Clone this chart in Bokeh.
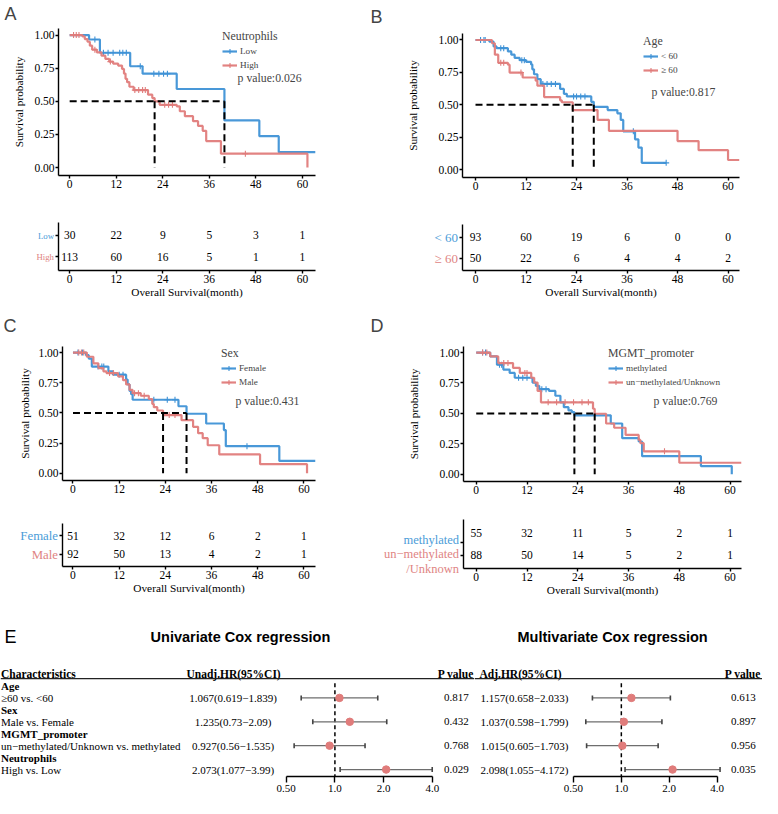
import math
import numpy as np
from bokeh.plotting import figure
from bokeh.layouts import row, column
from bokeh.models import (Range1d, LogAxis, LogScale, FixedTicker, Label, Legend,
                          LegendItem, NumeralTickFormatter)
from bokeh.core.properties import value
from bokeh.embed import file_html
from bokeh.resources import INLINE

# ---------------------------------------------------------------- data
risk_times = [0, 12, 24, 36, 48, 60]
y_ticks = [0, 0.25, 0.5, 0.75, 1.0]

# Panel A : Neutrophils
a_groups = ["Low", "High"]
a_low_t = [0, 5.0, 7.8, 15.6, 18.8, 27.6, 39.9, 48.9, 53.9, 63.4]
a_low_s = [1, 0.967, 0.867, 0.765, 0.709, 0.593, 0.356, 0.237, 0.116, 0.116]
a_low_cens = [6.5, 8.7, 9.9, 11.2, 12.9, 13.7, 14.6, 18.2, 21.7, 23.0, 24.2, 25.2]
a_high_t = [0, 3.3, 3.9, 4.6, 5.2, 5.8, 7.0, 8.2, 9.2, 10.2, 11.2, 12.5, 13.5, 14.0, 14.4,
            14.8, 15.4, 16.5, 20.2, 21.3, 21.9, 23.2, 27.6, 28.4, 29.7, 31.8, 33.1, 34.3,
            35.2, 39.0, 61.3]
a_high_s = [1, 0.99, 0.97, 0.95, 0.92, 0.89, 0.87, 0.845, 0.82, 0.80, 0.785, 0.77, 0.745,
            0.71, 0.67, 0.645, 0.61, 0.585, 0.55, 0.525, 0.50, 0.474, 0.462, 0.425, 0.388,
            0.35, 0.314, 0.277, 0.20, 0.105, 0.0]
a_high_cens = [1.0, 1.7, 2.4, 6.5, 10.5, 16.8, 17.8, 18.8, 19.5, 24.5, 25.5, 26.5, 45.3]
a_risk_low = [30, 22, 9, 5, 3, 1]
a_risk_high = [113, 60, 16, 5, 1, 1]
a_pvalue = "0.026"

# Panel B : Age
b_groups = ["< 60", "\u2265 60"]
b_young_t = [0, 3.3, 4.3, 5.0, 7.7, 8.5, 9.3, 10.5, 12.0, 13.2, 13.5, 13.9, 14.7, 15.5,
             20.1, 21.0, 21.7, 27.5, 28.1, 31.4, 33.7, 34.5, 35.1, 37.9, 38.7, 39.5, 45.3]
b_young_s = [1, 0.987, 0.95, 0.937, 0.912, 0.887, 0.862, 0.844, 0.832, 0.812, 0.774, 0.736,
             0.698, 0.661, 0.623, 0.585, 0.565, 0.523, 0.485, 0.46, 0.435, 0.384, 0.296,
             0.234, 0.171, 0.053, 0.053]
b_young_cens = [1.2, 2.0, 2.3, 6.0, 6.7, 11.0, 11.6, 16.0, 17.0, 18.0, 19.0, 23.3, 24.0,
                25.0, 26.0, 37.5, 45.3]
b_old_t = [0, 3.9, 4.6, 5.4, 7.7, 8.1, 11.2, 14.3, 14.7, 16.3, 20.1, 20.5, 23.1, 29.0,
           31.7, 48.0, 53.0, 60.0, 62.7]
b_old_s = [1, 0.975, 0.887, 0.824, 0.81, 0.749, 0.711, 0.686, 0.648, 0.56, 0.535, 0.52,
           0.46, 0.384, 0.30, 0.221, 0.151, 0.075, 0.075]
b_old_cens = [6.0, 6.7, 10.8]
b_risk_young = [93, 60, 19, 6, 0, 0]
b_risk_old = [50, 22, 6, 4, 4, 2]
b_pvalue = "0.817"

# Panel C : Sex
c_groups = ["Female", "Male"]
c_female_t = [0, 3.4, 4.1, 4.9, 9.2, 10.4, 13.8, 14.2, 14.7, 15.1, 15.5, 27.4, 29.5, 34.6,
              39.2, 39.7, 53.6, 63.0]
c_female_s = [1, 0.978, 0.95, 0.884, 0.844, 0.817, 0.776, 0.736, 0.682, 0.655, 0.609,
              0.555, 0.493, 0.412, 0.358, 0.224, 0.102, 0.102]
c_female_cens = [1.3, 2.5, 6.5, 7.5, 8.0, 12.0, 13.0, 21.0, 24.5, 26.5, 45.2]
c_male_t = [0, 3.6, 5.3, 6.6, 7.9, 8.7, 11.7, 13.0, 13.8, 14.7, 15.5, 17.6, 19.7, 20.6,
            21.0, 21.9, 23.4, 28.2, 31.2, 32.5, 33.7, 35.0, 38.0, 48.6, 60.8]
c_male_s = [1, 0.965, 0.911, 0.871, 0.844, 0.83, 0.803, 0.771, 0.736, 0.69, 0.663, 0.642,
            0.615, 0.574, 0.547, 0.52, 0.482, 0.44, 0.385, 0.332, 0.291, 0.232, 0.156,
            0.075, 0.0]
c_male_cens = [1.5, 2.2, 2.8, 9.5, 10.5, 16.0, 17.0, 18.5, 25.0, 26.5]
c_risk_female = [51, 32, 12, 6, 2, 1]
c_risk_male = [92, 50, 13, 4, 2, 1]
c_pvalue = "0.431"

# Panel D : MGMT promoter
d_groups = ["methylated", "un\u2212methylated/Unknown"]
d_meth_t = [0, 3.3, 4.9, 6.4, 7.9, 9.1, 13.3, 14.1, 14.9, 17.2, 18.7, 19.9, 20.7, 21.8,
            22.6, 23.2, 31.8, 34.5, 38.4, 39.2, 53.1, 60.4]
d_meth_s = [1, 0.968, 0.90, 0.86, 0.833, 0.793, 0.753, 0.726, 0.699, 0.685, 0.645, 0.591,
            0.551, 0.524, 0.51, 0.484, 0.417, 0.296, 0.269, 0.148, 0.067, 0.0]
d_meth_cens = [1.5, 2.2, 5.5, 6.0, 10.0, 11.0, 12.0, 15.5, 16.5]
d_unmeth_t = [0, 3.3, 5.2, 8.7, 10.3, 13.0, 13.7, 14.5, 15.3, 27.6, 28.0, 30.7, 32.6, 35.3,
              38.4, 38.8, 39.6, 48.0, 62.7]
d_unmeth_s = [1, 0.968, 0.914, 0.874, 0.833, 0.793, 0.753, 0.685, 0.591, 0.538, 0.497,
              0.417, 0.382, 0.323, 0.282, 0.255, 0.188, 0.094, 0.094]
d_unmeth_cens = [1.5, 2.5, 6.5, 7.5, 11.5, 12.0, 17.0, 19.0, 21.0, 23.0, 25.0, 26.5, 44.5]
d_risk_meth = [55, 32, 11, 5, 2, 1]
d_risk_unmeth = [88, 50, 14, 5, 2, 1]
d_pvalue = "0.769"
d_table_labels = ["methylated", "un\u2212methylated", "/Unknown"]

# Panel E : Cox regression
char_labels = ["Age", "\u226560 vs. <60", "Sex", "Male vs. Female", "MGMT_promoter",
               "un\u2212methylated/Unknown vs. methylated", "Neutrophils", "High vs. Low"]
uni_hr = [1.067, 1.235, 0.927, 2.073]
uni_lo = [0.619, 0.73, 0.56, 1.077]
uni_hi = [1.839, 2.09, 1.535, 3.99]
uni_p = ["0.817", "0.432", "0.768", "0.029"]
multi_hr = [1.157, 1.037, 1.015, 2.098]
multi_lo = [0.658, 0.598, 0.605, 1.055]
multi_hi = [2.033, 1.799, 1.703, 4.172]
multi_p = ["0.613", "0.897", "0.956", "0.035"]
hr_ticks = [0.5, 1.0, 2.0, 4.0]
hr_tick_labels = ["0.50", "1.0", "2.0", "4.0"]

# ---------------------------------------------------------------- style
S = 762 / 778
BLUE = "#3f92d6"
RED = "#e07c7b"
BLUE_T = "#4b9cd8"
RED_T = "#e08483"
SERIF = "Liberation Serif"
SANS = "Liberation Sans"
TICK_FS = "11.5px"

COLS = [(0, 370), (370, 778)]
ROWS = [(0, 205), (205, 312), (312, 515), (515, 618), (618, 814)]


def px(v):
    return int(round(S * v))


def surv_at(t_list, s_list, t):
    idx = int(np.searchsorted(np.asarray(t_list), t, side="right")) - 1
    return s_list[max(idx, 0)]


def median_time(t_list, s_list):
    for t, s in zip(t_list, s_list):
        if s <= 0.5:
            return t
    return None


def make_fig(col, rw, frame, xr, yr, title=None, axes=True):
    (cx0, cx1), (ry0, ry1) = col, rw
    l, r, t, b = frame
    W, H = px(cx1) - px(cx0), px(ry1) - px(ry0)
    fl, fr, ft, fb = px(l) - px(cx0), px(cx1) - px(r), px(t) - px(ry0), px(ry1) - px(b)
    kw = {} if axes else dict(x_axis_type=None, y_axis_type=None)
    p = figure(width=W, height=H, x_range=Range1d(*xr), y_range=Range1d(*yr),
               output_backend="svg", toolbar_location=None, title=title,
               min_border_left=fl, min_border_right=fr, min_border_top=ft,
               min_border_bottom=fb, frame_align=False, **kw)
    p.outline_line_color = None
    p.grid.visible = False
    p.background_fill_color = "white"
    p.border_fill_color = "white"
    return p


def style_axis(ax, size=TICK_FS):
    ax.axis_line_width = 1.4
    ax.axis_line_color = "black"
    ax.major_tick_line_width = 1.4
    ax.major_tick_line_color = "black"
    ax.major_tick_out = 3
    ax.major_tick_in = 0
    ax.minor_tick_line_color = None
    ax.major_label_text_font = SERIF
    ax.major_label_text_font_size = size
    ax.major_label_text_color = "black"
    ax.major_label_standoff = 1
    ax.axis_label_text_font = SERIF
    ax.axis_label_text_font_style = "normal"
    ax.axis_label_text_font_size = "11.3px"
    ax.axis_label_text_color = "black"


def km_panel(col, rw, frame, xr, curves, legend_title, pval, pval_xy, legend_tl,
             letter, letter_x, ylab_standoff):
    yr = (-0.06, 1.05)
    l, r, t, b = frame
    p = make_fig(col, rw, frame, xr, yr, title=letter)
    # panel letter drawn as the plot title, shifted into the left margin
    p.title.text_font = SANS
    p.title.text_font_size = "18px"
    p.title.text_font_style = "normal"
    p.title.align = "left"
    p.title.vertical_align = "top"
    p.title.offset = px(letter_x) - px(l)
    p.title.standoff = max(0, (px(t) - px(rw[0])) - 23)
    p.xaxis.ticker = FixedTicker(ticks=risk_times)
    p.yaxis.ticker = FixedTicker(ticks=y_ticks)
    p.yaxis.formatter = NumeralTickFormatter(format="0.00")
    p.yaxis.axis_label = "Survival probability"
    for ax in p.axis:
        style_axis(ax)
    p.yaxis.axis_label_standoff = ylab_standoff
    items = []
    meds = []
    for tt, s, cens, color, label in curves:
        r1 = p.step(tt, s, mode="after", line_color=color, line_width=2.2, line_alpha=0.95)
        cy = [surv_at(tt, s, c) for c in cens]
        r2 = p.scatter(cens, cy, marker="cross", size=6, line_color=color, line_width=1.1)
        items.append(LegendItem(label=label, renderers=[r1, r2]))
        meds.append(median_time(tt, s))
    dash = "7 4"
    p.line([0, max(meds)], [0.5, 0.5], line_color="black", line_width=2, line_dash=dash)
    for m in meds:
        p.line([m, m], [0.5, 0], line_color="black", line_width=2, line_dash=dash)
    lx, ly = legend_tl
    leg = Legend(items=items, title=legend_title,
                 location=(px(lx) - px(l), px(b) - px(ly) - 41),
                 title_text_font=SERIF, title_text_font_size="11.8px",
                 title_text_font_style="normal", title_standoff=1,
                 label_text_font=SERIF, label_text_font_size="9.2px",
                 glyph_width=15, glyph_height=12, label_height=12, label_standoff=3,
                 spacing=2, padding=0, margin=0, border_line_color=None,
                 background_fill_alpha=0)
    p.add_layout(leg)
    p.add_layout(Label(x=pval_xy[0], y=pval_xy[1], text="p value:" + pval,
                       text_font=SERIF, text_font_size="11.75px", text_baseline="middle"))
    return p


def risk_panel(col, rw, frame, xr, rows_px, counts, labels, label_rows, colors, tick_rows,
               label_size):
    l, r, t, b = frame
    split = l - 4.5
    ppu = rows_px[1] - rows_px[0]
    yr = (1 - (b - rows_px[1]) / ppu, 2 + (rows_px[0] - t) / ppu)
    p = make_fig((split, col[1]), rw, frame, xr, yr)
    p.xaxis.ticker = FixedTicker(ticks=risk_times)
    p.xaxis.axis_label = "Overall Survival(month)"
    p.yaxis.ticker = FixedTicker(ticks=tick_rows)
    p.yaxis.major_label_overrides = {float(k): "" for k in tick_rows}
    for ax in p.axis:
        style_axis(ax)
    p.yaxis.major_label_standoff = 0
    p.xaxis.axis_label_standoff = 0
    xs, ys, txt = [], [], []
    for yrow, cnt in zip([2, 1], counts):
        xs += risk_times
        ys += [yrow] * len(cnt)
        txt += [str(c) for c in cnt]
    p.text(xs, ys, text=txt, text_font=value(SERIF), text_font_size="11.5px",
           text_align="center", text_baseline="middle", text_color="black")
    # strata labels: a narrow companion figure sharing the same vertical mapping
    yr_lab = (2 - (rw[1] - rows_px[0]) / ppu, 2 + (rows_px[0] - rw[0]) / ppu)
    q = make_fig((col[0], split), rw, (col[0], split, rw[0], rw[1]), (col[0], split),
                 yr_lab, axes=False)
    q.text([split - 0.5] * len(labels), label_rows, text=labels,
           text_font=value(SERIF), text_font_size=label_size, text_color=colors,
           text_align="right", text_baseline="middle")
    return q, p


# ---------------------------------------------------------------- panels
kmA = km_panel(COLS[0], ROWS[0], (59.3, 321.7, 29.0, 178.8), (-2.88, 63.38),
               [(a_low_t, a_low_s, a_low_cens, BLUE, a_groups[0]),
                (a_high_t, a_high_s, a_high_cens, RED, a_groups[1])],
               "Neutrophils", a_pvalue, (43.3, 0.672), (227, 30.5), "A", 4, 6)
kmB = km_panel(COLS[1], ROWS[0], (471.7, 755.0, 33.4, 180.7), (-3.09, 62.72),
               [(b_young_t, b_young_s, b_young_cens, BLUE, b_groups[0]),
                (b_old_t, b_old_s, b_old_cens, RED, b_groups[1])],
               "Age", b_pvalue, (41.8, 0.598), (656, 35.5), "B", 378, 16)
kmC = km_panel(COLS[0], ROWS[2], (63.3, 321.7, 352.8, 490.1), (-2.72, 63.0),
               [(c_female_t, c_female_s, c_female_cens, BLUE, c_groups[0]),
                (c_male_t, c_male_s, c_male_cens, RED, c_groups[1])],
               "Sex", c_pvalue, (42.2, 0.593), (226, 354), "C", 3, 4)
kmD = km_panel(COLS[1], ROWS[2], (472.7, 756.7, 353.1, 490.7), (-3.01, 62.7),
               [(d_meth_t, d_meth_s, d_meth_cens, BLUE, d_groups[0]),
                (d_unmeth_t, d_unmeth_s, d_unmeth_cens, RED, d_groups[1])],
               "MGMT_promoter", d_pvalue, (41.9, 0.597), (621, 354.5), "D", 378, 16)

lA, tA = risk_panel(COLS[0], ROWS[1], (59.3, 321.7, 226.7, 276.0), (-2.88, 63.38),
                    (240.0, 261.7), [a_risk_low, a_risk_high], a_groups, [2, 1],
                    [BLUE_T, RED_T], [2, 1], "8.8px")
lB, tB = risk_panel(COLS[1], ROWS[1], (471.7, 755.0, 228.3, 276.0), (-3.09, 62.72),
                    (241.7, 263.3), [b_risk_young, b_risk_old], b_groups, [2, 1],
                    [BLUE_T, RED_T], [2, 1], "13px")
lC, tC = risk_panel(COLS[0], ROWS[3], (63.3, 321.7, 534.3, 578.3), (-2.72, 63.0),
                    (546.7, 566.0), [c_risk_female, c_risk_male], c_groups, [2, 1],
                    [BLUE_T, RED_T], [2, 1], "12.8px")
lD, tD = risk_panel(COLS[1], ROWS[3], (472.7, 756.7, 530.0, 580.0), (-3.01, 62.7),
                    (543.3, 566.0), [d_risk_meth, d_risk_unmeth], d_table_labels,
                    [1.63, 1.013, 0.34], [BLUE_T, RED_T, RED_T], [1.573, 0.97], "12.5px")


# ---------------------------------------------------------------- forest
def line_y(Y):
    return (Y - 688.0) / 12.2


def forest_panel(x0, x1, title, title_x, headers, header_x, hr, lo, hi, pv, hr_x, p_x,
                 axis_px, with_chars, letter):
    frame = (x0, x1, 618.0, 792.7)
    yr = (line_y(792.7), line_y(618.0))
    p = make_fig((x0, x1), ROWS[4], frame, (x0, x1), yr, axes=False)
    a05, a4 = axis_px
    ppd = (a4 - a05) / 3.0
    start = 0.5 * 2 ** ((x0 - a05) / ppd)
    end = 0.5 * 2 ** ((x1 - a05) / ppd)
    p.extra_x_ranges = {"hr": Range1d(start, end)}
    p.extra_x_scales = {"hr": LogScale()}
    ax = LogAxis(x_range_name="hr", ticker=FixedTicker(ticks=hr_ticks), bounds=(0.5, 4.0),
                 major_label_overrides=dict(zip(hr_ticks, hr_tick_labels)))
    style_axis(ax, "11px")
    ax.major_tick_out = 6
    ax.major_label_standoff = 2
    p.add_layout(ax, "below")

    ty = line_y(650)
    p.text([title_x], [ty], text=[title], text_font=value(SANS), text_font_size="14.5px",
           text_font_style="bold", text_align="center", text_baseline="middle")
    if letter:
        p.text([x0 + 4], [ty], text=[letter], text_font=value(SANS), text_font_size="18px",
               text_align="left", text_baseline="middle")
    p.text(header_x, [0] * len(headers), text=headers, text_font=value(SERIF),
           text_font_size="11.5px", text_font_style="bold",
           text_align=["left" if h == "Characteristics" else "center" for h in headers],
           text_baseline="middle")
    p.segment([x0], [line_y(692.7)], [x1], [line_y(692.7)], line_color="#222",
              line_width=1.2)
    rows_i = [2, 4, 6, 8]
    if with_chars:
        p.text([x0 + 0.5] * len(char_labels), list(range(1, 9)), text=char_labels,
               text_font=value(SERIF), text_font_size="11px",
               text_font_style=["bold" if i % 2 == 0 else "normal"
                                for i in range(len(char_labels))],
               text_align="left", text_baseline="middle")
    hr_txt = [f"{h}({a}\u2212{b})" for h, a, b in zip(hr, lo, hi)]
    p.text([hr_x] * 4, rows_i, text=hr_txt, text_font=value(SERIF), text_font_size="11px",
           text_align="center", text_baseline="middle")
    p.text([p_x] * 4, rows_i, text=pv, text_font=value(SERIF), text_font_size="11px",
           text_align="center", text_baseline="middle")
    p.segment([1.0], [line_y(697.5)], [1.0], [line_y(792.7)], x_range_name="hr",
              line_color="black", line_width=1.5, line_dash="4 3")
    p.segment(lo, rows_i, hi, rows_i, x_range_name="hr", line_color="#6e6e6e",
              line_width=1.3)
    p.scatter(lo + hi, rows_i + rows_i, x_range_name="hr", marker="dash", angle=math.pi / 2,
              size=5, line_color="#444444", line_width=1.6)
    p.scatter(hr, rows_i, x_range_name="hr", marker="circle", size=7.5, fill_color=RED,
              line_color=RED)
    return p


eL = forest_panel(0.0, 484.0, "Univariate Cox regression", 245.0,
                  ["Characteristics", "Unadj.HR(95%CI)", "P value"], [0.5, 238.0, 465.0],
                  uni_hr, uni_lo, uni_hi, uni_p, 237.5, 465.5, (291.7, 441.0), True, "E")
eR = forest_panel(484.0, 778.0, "Multivariate Cox regression", 625.0,
                  ["Adj.HR(95%CI)", "P value"], [531.0, 758.0],
                  multi_hr, multi_lo, multi_hi, multi_p, 535.0, 758.5, (585.0, 731.7),
                  False, None)

layout = column(row(kmA, kmB), row(lA, tA, lB, tB), row(kmC, kmD),
                row(lC, tC, lD, tD), row(eL, eR))

with open("out.html", "w") as f:
    f.write(file_html(layout, INLINE))
